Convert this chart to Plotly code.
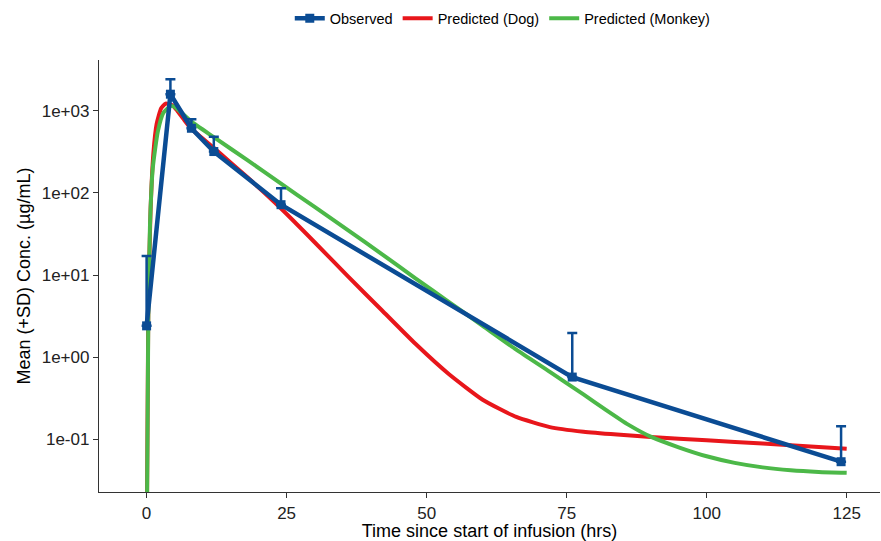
import plotly.graph_objects as go

# Observed mean concentrations with upper SD
obs_time = [0, 4.25, 8, 12, 24, 76, 124]
obs_mean = [2.4, 1600, 615, 320, 72, 0.57, 0.053]
obs_sd = [14.7, 830, 175, 166, 42, 1.39, 0.09]

# Model-predicted profiles
dog_time = [0.02, 0.3, 0.7, 1.2, 1.8, 2.6, 3.4, 4.6, 5.5, 6.6, 8, 12, 18, 24,
            30, 36, 42, 48, 54, 60, 66, 72, 78, 84, 90, 100, 110, 125]
dog_conc = [0.005, 4, 60, 300, 700, 1080, 1230, 1175, 1000, 795, 603, 355,
            155, 64.6, 25.1, 9.55, 3.72, 1.45, 0.617, 0.302, 0.186, 0.140,
            0.123, 0.1135, 0.106, 0.0966, 0.0881, 0.0762]

monkey_time = [0.02, 0.3, 0.6, 1.1, 2.0, 3.0, 4.3, 5, 6, 8, 12, 18, 24, 30,
               36, 42, 48, 54, 60, 66, 72, 78, 82, 86, 90, 95, 100, 105, 110,
               115, 120, 125]
monkey_conc = [0.004, 3, 40, 200, 560, 950, 1150, 1120, 980, 740, 479, 251,
               130, 67.6, 35.1, 18.0, 9.1, 4.68, 2.40, 1.23, 0.66, 0.350,
               0.227, 0.150, 0.107, 0.0794, 0.0617, 0.0513, 0.0452, 0.0417,
               0.0398, 0.0389]

tick_vals = [0.1, 1, 10, 100, 1000]
tick_text = ["1e-01", "1e+00", "1e+01", "1e+02", "1e+03"]
x_ticks = [0, 25, 50, 75, 100, 125]

BLUE = "#0B4C94"
RED = "#E8161B"
GREEN = "#4CB848"
FONT = "Liberation Sans, Arial, sans-serif"

fig = go.Figure()

fig.add_trace(go.Scatter(
    x=dog_time, y=dog_conc, mode="lines", name="Predicted (Dog)",
    line=dict(color=RED, width=4, shape="spline", smoothing=0.5),
    legendrank=2,
))
fig.add_trace(go.Scatter(
    x=monkey_time, y=monkey_conc, mode="lines", name="Predicted (Monkey)",
    line=dict(color=GREEN, width=4, shape="spline", smoothing=0.5),
    legendrank=3,
))
fig.add_trace(go.Scatter(
    x=obs_time, y=obs_mean, mode="lines+markers", name="Observed",
    line=dict(color=BLUE, width=4.5),
    marker=dict(symbol="square", size=9, color=BLUE),
    error_y=dict(type="data", array=obs_sd, arrayminus=[0] * len(obs_sd),
                 symmetric=False, color=BLUE, thickness=2.5, width=5),
    legendrank=1,
))

fig.update_layout(
    width=881, height=541,
    margin=dict(l=99, r=1, t=60, b=49),
    paper_bgcolor="white", plot_bgcolor="white",
    font=dict(family=FONT, color="#000000"),
    showlegend=True,
    legend=dict(orientation="h", x=0.517, xanchor="center", y=1.0965,
                yanchor="middle", font=dict(size=14.5, color="#000000"),
                traceorder="normal"),
    xaxis=dict(
        range=[-8.5, 130.95], tickvals=x_ticks, showgrid=False, zeroline=False,
        showline=True, linecolor="#333333", linewidth=1.3,
        ticks="outside", ticklen=5, tickcolor="#333333", tickwidth=1.2,
        tickfont=dict(size=17, color="#222222"),
        title=dict(text="Time since start of infusion (hrs)",
                   font=dict(size=18, color="#000000"), standoff=6),
    ),
    yaxis=dict(
        type="log", range=[-1.645, 3.621], tickvals=tick_vals,
        ticktext=tick_text, showgrid=False, zeroline=False,
        showline=True, linecolor="#333333", linewidth=1.3,
        ticks="outside", ticklen=5, tickcolor="#333333", tickwidth=1.2,
        tickfont=dict(size=17, color="#222222"),
        title=dict(text="Mean (+SD) Conc. (µg/mL)",
                   font=dict(size=18, color="#000000"), standoff=6),
    ),
)

fig.write_html("out.html")
